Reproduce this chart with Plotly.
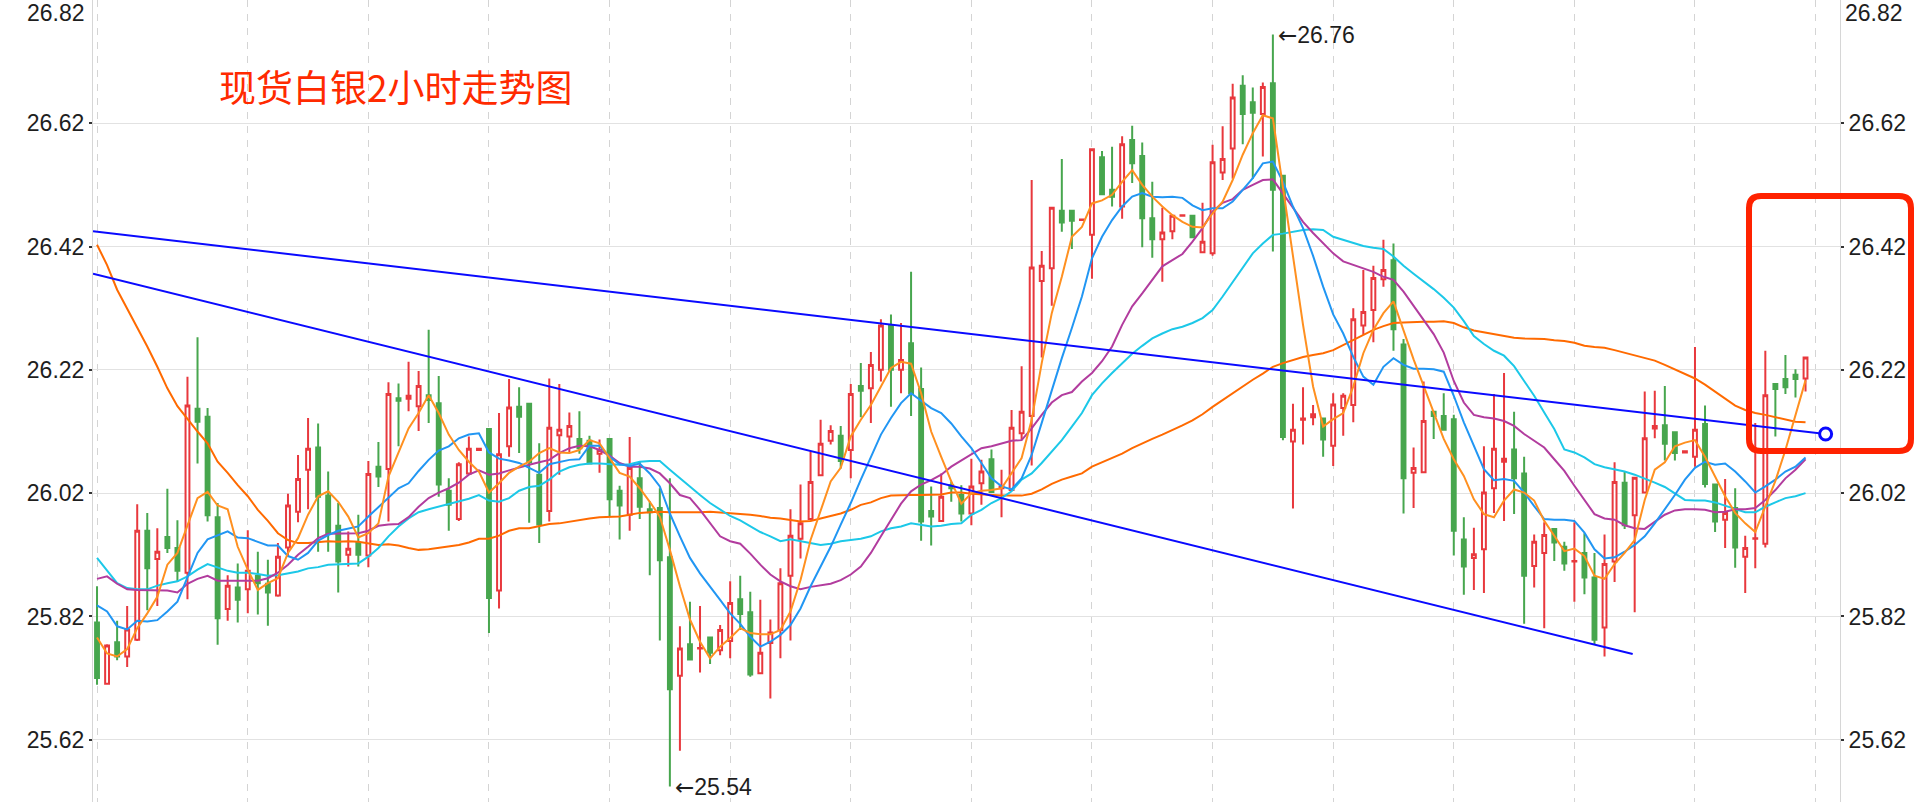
import plotly.graph_objects as go

# ---------------- data ----------------
opens = [25.810,25.711,25.778,25.755,25.782,25.959,25.913,25.949,25.931,25.891,
26.157,26.144,25.981,25.832,25.867,25.864,25.886,25.873,25.854,25.932,
25.990,26.058,26.094,26.016,25.967,25.920,25.939,25.919,26.063,26.059,
26.174,26.173,26.161,26.179,26.166,26.024,25.978,26.052,26.090,26.124,
25.862,26.096,26.160,26.165,26.050,25.991,26.114,26.112,26.108,26.105,
26.084,26.108,26.024,25.985,26.044,25.994,25.996,25.916,25.724,25.775,
25.768,25.786,25.765,25.780,25.848,25.827,25.728,25.777,25.798,25.886,
25.946,25.978,26.049,26.105,26.113,26.090,26.194,26.190,26.220,26.292,
26.220,26.263,26.189,25.991,25.975,26.033,26.017,25.987,26.036,26.075,
26.028,26.025,26.117,26.145,26.364,26.385,26.478,26.478,26.463,26.439,
26.565,26.512,26.485,26.593,26.567,26.466,26.432,26.445,26.470,26.470,
26.411,26.409,26.540,26.579,26.681,26.654,26.635,26.685,26.535,26.104,
26.139,26.143,26.141,26.097,26.158,26.163,26.292,26.317,26.367,26.398,
26.261,26.053,26.054,26.152,26.145,26.140,25.945,25.915,25.929,26.028,
26.071,26.091,26.052,25.902,25.923,25.962,25.933,25.909,25.923,25.883,
25.802,25.909,26.037,25.984,26.021,26.125,26.130,26.119,26.086,26.079,
26.132,26.034,25.977,25.996,25.917,25.946,25.938,26.197,26.205,26.212,
26.206]
highs = [25.869,25.775,25.813,25.837,26.002,25.988,25.963,26.027,25.976,26.209,
26.273,26.158,26.004,25.887,25.906,25.960,25.925,25.912,25.939,26.019,
26.082,26.142,26.133,26.055,26.004,25.958,25.985,26.072,26.103,26.200,
26.198,26.233,26.218,26.285,26.210,26.044,26.070,26.112,26.093,26.124,
26.150,26.205,26.192,26.166,26.101,26.206,26.197,26.151,26.153,26.113,
26.107,26.108,26.032,26.111,26.072,26.007,26.028,26.044,25.804,25.844,
25.837,25.786,25.806,25.877,25.886,25.860,25.847,25.815,25.898,25.994,
26.034,26.088,26.139,26.130,26.129,26.197,26.231,26.249,26.302,26.310,
26.296,26.379,26.224,26.031,26.052,26.039,26.033,26.076,26.074,26.091,
26.058,26.155,26.226,26.528,26.413,26.484,26.562,26.478,26.465,26.579,
26.575,26.582,26.599,26.616,26.589,26.525,26.483,26.471,26.472,26.470,
26.491,26.585,26.615,26.684,26.698,26.678,26.686,26.764,26.535,26.165,
26.192,26.163,26.141,26.182,26.182,26.320,26.382,26.389,26.431,26.425,
26.270,26.094,26.201,26.152,26.182,26.147,25.981,25.964,26.096,26.181,
26.215,26.152,26.079,25.953,25.973,25.962,25.941,25.973,25.955,25.923,
25.953,26.070,26.055,26.045,26.185,26.186,26.194,26.119,26.089,26.257,
26.162,26.034,26.043,26.028,25.951,26.134,26.251,26.197,26.244,26.221,
26.240]
lows = [25.709,25.709,25.749,25.738,25.780,25.830,25.837,25.923,25.876,25.848,
26.068,25.974,25.774,25.813,25.810,25.825,25.823,25.805,25.852,25.917,
25.973,25.994,25.925,25.925,25.859,25.901,25.901,25.900,26.030,25.974,
26.096,26.153,26.121,26.134,26.014,25.959,25.975,26.050,26.089,25.793,
25.833,26.079,26.085,25.972,25.939,25.974,26.050,26.085,26.084,26.068,
26.053,25.983,25.945,25.959,25.978,25.887,25.781,25.544,25.602,25.750,
25.729,25.743,25.757,25.752,25.798,25.722,25.728,25.687,25.752,25.781,
25.914,25.978,26.049,26.099,26.060,26.044,26.143,26.134,26.201,26.160,
26.182,26.145,25.943,25.935,25.975,26.006,25.974,25.968,26.001,26.022,
25.981,26.025,26.106,26.065,26.240,26.324,26.444,26.416,26.462,26.368,
26.505,26.485,26.465,26.523,26.419,26.402,26.363,26.432,26.469,26.435,
26.411,26.405,26.528,26.530,26.586,26.530,26.566,26.412,26.106,25.995,
26.099,26.130,26.079,26.064,26.113,26.135,26.277,26.265,26.355,26.251,
25.987,25.996,26.054,26.108,26.123,25.919,25.855,25.863,25.858,25.988,
25.975,25.986,25.808,25.867,25.801,25.910,25.894,25.844,25.856,25.775,
25.755,25.876,25.962,25.827,26.021,26.109,26.073,26.073,26.085,26.063,
26.029,25.957,25.931,25.899,25.858,25.898,25.932,26.112,26.181,26.175,
26.185]
closes = [25.720,25.773,25.755,25.799,25.959,25.898,25.925,25.931,25.894,26.162,
26.136,25.984,25.817,25.870,25.847,25.894,25.874,25.859,25.917,26.000,
26.043,26.092,26.014,25.955,25.909,25.930,25.920,26.051,26.047,26.181,
26.170,26.178,26.194,26.171,26.034,26.001,26.067,26.092,26.092,25.850,
26.083,26.159,26.144,26.070,25.969,26.126,26.123,26.129,26.093,26.068,
26.090,26.010,26.000,26.061,25.998,25.989,25.911,25.702,25.768,25.750,
25.769,25.761,25.798,25.842,25.824,25.726,25.761,25.794,25.874,25.951,
25.971,26.038,26.100,26.121,26.072,26.181,26.186,26.228,26.292,26.220,
26.236,26.182,25.974,25.982,26.014,26.028,25.987,26.031,26.055,26.022,
26.031,26.126,26.152,26.386,26.389,26.483,26.459,26.462,26.464,26.578,
26.505,26.501,26.586,26.555,26.466,26.432,26.443,26.470,26.471,26.435,
26.428,26.557,26.562,26.662,26.635,26.637,26.679,26.512,26.111,26.123,
26.141,26.148,26.107,26.164,26.178,26.302,26.314,26.369,26.382,26.286,
26.044,26.061,26.137,26.145,26.123,25.959,25.901,25.921,26.021,26.092,
26.076,26.044,25.886,25.941,25.952,25.940,25.906,25.910,25.883,25.782,
25.905,26.038,25.968,26.045,26.109,26.129,26.100,26.085,26.088,26.123,
26.035,25.974,25.988,25.932,25.931,25.947,26.179,26.189,26.192,26.205,
26.240]

ma5 = [25.786,25.760,25.755,25.767,25.801,25.825,25.852,25.904,25.923,25.966,
26.012,26.022,26.000,25.994,25.933,25.896,25.863,25.874,25.882,25.923,
25.947,25.985,26.015,26.023,26.006,25.982,25.948,25.955,25.971,26.047,
26.085,26.125,26.150,26.179,26.150,26.115,26.090,26.071,26.055,26.021,
26.036,26.053,26.063,26.071,26.085,26.093,26.086,26.085,26.090,26.106,
26.101,26.077,26.053,26.047,26.028,26.006,25.982,25.928,25.869,25.815,
25.779,25.752,25.771,25.785,25.801,25.793,25.791,25.791,25.798,25.828,
25.879,25.944,25.993,26.039,26.061,26.112,26.139,26.163,26.193,26.223,
26.233,26.230,26.182,26.120,26.079,26.039,26.003,26.020,26.024,26.025,
26.028,26.052,26.077,26.139,26.231,26.312,26.371,26.436,26.452,26.490,
26.495,26.504,26.525,26.544,26.520,26.501,26.485,26.471,26.460,26.452,
26.451,26.474,26.493,26.528,26.569,26.604,26.633,26.628,26.517,26.404,
26.293,26.193,26.128,26.140,26.150,26.193,26.247,26.285,26.312,26.331,
26.283,26.237,26.194,26.151,26.108,26.075,26.048,26.010,25.986,25.981,
26.008,26.026,26.021,26.008,25.975,25.951,25.926,25.930,25.918,25.886,
25.881,25.905,25.923,25.944,26.009,26.058,26.070,26.096,26.102,26.106,
26.079,26.047,26.015,25.988,25.971,25.957,26.000,26.040,26.090,26.145,
26.203]
ma10 = [25.838,25.828,25.804,25.799,25.813,25.812,25.814,25.828,25.844,25.882,
25.923,25.945,25.951,25.958,25.948,25.947,25.941,25.935,25.935,25.918,
25.912,25.923,25.943,25.952,25.959,25.962,25.966,25.982,25.997,26.013,
26.028,26.036,26.056,26.074,26.089,26.096,26.109,26.115,26.117,26.086,
26.076,26.073,26.069,26.061,26.053,26.067,26.071,26.074,26.075,26.097,
26.097,26.079,26.067,26.064,26.068,26.052,26.031,25.987,25.950,25.915,
25.890,25.869,25.847,25.825,25.808,25.787,25.771,25.779,25.790,25.806,
25.833,25.869,25.901,25.933,25.969,26.004,26.042,26.079,26.115,26.142,
26.166,26.182,26.170,26.158,26.150,26.133,26.112,26.093,26.069,26.044,
26.031,26.026,26.044,26.082,26.134,26.188,26.239,26.288,26.339,26.401,
26.436,26.463,26.485,26.501,26.507,26.501,26.500,26.501,26.499,26.487,
26.479,26.482,26.482,26.493,26.512,26.531,26.555,26.558,26.525,26.485,
26.450,26.405,26.355,26.310,26.279,26.241,26.209,26.196,26.225,26.239,
26.228,26.222,26.222,26.221,26.217,26.178,26.135,26.097,26.059,26.041,
26.043,26.040,26.021,25.999,25.978,25.977,25.977,25.975,25.956,25.929,
25.914,25.916,25.925,25.936,25.950,25.971,25.993,26.017,26.042,26.061,
26.071,26.066,26.068,26.055,26.039,26.021,26.031,26.042,26.055,26.063,
26.078]
ma20 = [25.881,25.885,25.873,25.864,25.863,25.863,25.862,25.862,25.859,25.873,
25.881,25.886,25.878,25.878,25.879,25.878,25.878,25.882,25.891,25.904,
25.920,25.933,25.947,25.954,25.954,25.954,25.955,25.959,25.967,25.969,
25.970,25.981,25.998,26.012,26.021,26.028,26.037,26.050,26.057,26.050,
26.052,26.057,26.062,26.066,26.070,26.074,26.085,26.093,26.097,26.096,
26.090,26.081,26.069,26.063,26.063,26.060,26.052,26.036,26.017,26.012,
25.993,25.971,25.950,25.942,25.938,25.922,25.904,25.888,25.877,25.869,
25.864,25.868,25.871,25.873,25.879,25.888,25.901,25.923,25.950,25.976,
26.003,26.023,26.034,26.041,26.050,26.063,26.073,26.082,26.093,26.096,
26.101,26.105,26.106,26.125,26.147,26.167,26.179,26.184,26.201,26.215,
26.234,26.258,26.293,26.323,26.344,26.366,26.388,26.398,26.408,26.428,
26.450,26.477,26.491,26.497,26.512,26.520,26.528,26.529,26.506,26.482,
26.460,26.442,26.425,26.409,26.396,26.390,26.385,26.379,26.371,26.366,
26.347,26.324,26.302,26.278,26.248,26.202,26.167,26.147,26.143,26.141,
26.137,26.129,26.116,26.105,26.094,26.075,26.056,26.032,26.008,25.986,
25.979,25.977,25.968,25.963,25.962,25.974,25.985,25.992,25.994,25.994,
25.993,25.989,25.990,25.994,25.994,25.996,26.009,26.025,26.044,26.058,
26.075]
ma30 = [25.915,25.895,25.874,25.866,25.864,25.864,25.870,25.874,25.877,25.885,
25.896,25.905,25.900,25.894,25.891,25.891,25.889,25.886,25.887,25.890,
25.893,25.898,25.900,25.904,25.905,25.906,25.906,25.917,25.931,25.950,
25.966,25.979,25.989,25.994,25.998,26.002,26.006,26.011,26.017,26.008,
26.006,26.012,26.024,26.030,26.032,26.042,26.055,26.062,26.066,26.068,
26.068,26.067,26.066,26.067,26.071,26.072,26.072,26.058,26.044,26.031,
26.017,26.004,25.993,25.983,25.976,25.967,25.957,25.950,25.942,25.945,
25.942,25.938,25.936,25.938,25.942,25.944,25.946,25.950,25.958,25.963,
25.966,25.971,25.969,25.966,25.967,25.970,25.971,25.985,25.993,26.004,
26.012,26.023,26.042,26.052,26.069,26.088,26.106,26.128,26.150,26.179,
26.198,26.215,26.231,26.246,26.259,26.271,26.279,26.286,26.290,26.296,
26.304,26.317,26.339,26.363,26.387,26.409,26.425,26.439,26.441,26.444,
26.447,26.448,26.447,26.436,26.431,26.425,26.421,26.418,26.416,26.404,
26.389,26.376,26.364,26.351,26.337,26.321,26.299,26.275,26.262,26.251,
26.243,26.226,26.202,26.178,26.151,26.124,26.091,26.086,26.078,26.067,
26.062,26.059,26.055,26.050,26.044,26.037,26.030,26.020,26.009,26.008,
26.008,26.005,26.000,25.994,25.989,25.989,25.998,26.005,26.012,26.015,
26.020]
ma60 = [26.423,26.390,26.350,26.320,26.290,26.258,26.225,26.190,26.161,26.140,
26.120,26.101,26.071,26.053,26.033,26.015,25.993,25.975,25.955,25.944,
25.939,25.939,25.940,25.942,25.941,25.942,25.941,25.939,25.936,25.937,
25.935,25.931,25.928,25.929,25.931,25.933,25.936,25.940,25.946,25.946,
25.951,25.959,25.963,25.963,25.966,25.970,25.971,25.974,25.977,25.979,
25.981,25.982,25.982,25.985,25.988,25.989,25.990,25.989,25.989,25.988,
25.989,25.990,25.989,25.988,25.987,25.985,25.983,25.980,25.979,25.977,
25.974,25.975,25.979,25.983,25.987,25.993,26.001,26.005,26.012,26.016,
26.017,26.017,26.017,26.017,26.018,26.021,26.021,26.019,26.018,26.016,
26.016,26.016,26.016,26.019,26.026,26.035,26.042,26.047,26.052,26.063,
26.070,26.077,26.084,26.093,26.101,26.108,26.115,26.122,26.130,26.138,
26.148,26.160,26.171,26.183,26.193,26.204,26.214,26.225,26.231,26.236,
26.241,26.244,26.247,26.252,26.260,26.269,26.277,26.285,26.291,26.296,
26.297,26.298,26.298,26.298,26.299,26.296,26.289,26.284,26.281,26.277,
26.275,26.272,26.271,26.271,26.270,26.268,26.267,26.264,26.259,26.257,
26.256,26.252,26.248,26.243,26.239,26.235,26.228,26.221,26.214,26.206,
26.196,26.185,26.174,26.162,26.155,26.150,26.147,26.143,26.139,26.136,
26.135]

# trend lines (bar index, price)
upper_x = [-0.4, 172]
upper_y = [26.445, 26.116]
lower_x = [-0.4, 152.8]
lower_y = [26.376, 25.759]

y_ticks = [25.62, 25.82, 26.02, 26.22, 26.42, 26.62, 26.82]
day_lines = [0, 15, 27, 39, 51, 63, 75, 87, 99, 111, 123, 135, 147, 159, 171]
title_text = "现货白银2小时走势图"

# ---------------- figure ----------------
n = len(closes)
xs = list(range(n))
W, H = 1924, 802
ML, MR = 93, 84
X_RANGE = [-0.4, 173.43]
Y_RANGE = [25.519, 26.82]

RED = "#e8383d"
GREEN = "#47a64e"

fig = go.Figure()
fig.add_trace(go.Candlestick(
    x=xs, open=opens, high=highs, low=lows, close=closes,
    increasing=dict(line=dict(color=RED, width=2), fillcolor="#ffffff"),
    decreasing=dict(line=dict(color=GREEN, width=2), fillcolor=GREEN),
    whiskerwidth=0, hoverinfo="skip", showlegend=False))

ma_styles = [(ma60, "#ff6a00"), (ma30, "#1cc8e8"), (ma20, "#b23c9e"),
             (ma10, "#2196f3"), (ma5, "#ff9020")]
for vals, col in ma_styles:
    fig.add_trace(go.Scatter(x=xs, y=vals, mode="lines",
                             line=dict(color=col, width=2),
                             hoverinfo="skip", showlegend=False))

fig.add_trace(go.Scatter(x=upper_x, y=upper_y, mode="lines",
                         line=dict(color="#0a0aff", width=2), hoverinfo="skip", showlegend=False))
fig.add_trace(go.Scatter(x=lower_x, y=lower_y, mode="lines",
                         line=dict(color="#0a0aff", width=2), hoverinfo="skip", showlegend=False))
fig.add_trace(go.Scatter(x=[upper_x[-1]], y=[upper_y[-1]], mode="markers",
                         marker=dict(size=12, color="white", line=dict(color="#0a0aff", width=3)),
                         hoverinfo="skip", showlegend=False))
# invisible trace for the right-hand axis
fig.add_trace(go.Scatter(x=[xs[0]], y=[closes[0]], yaxis="y2", mode="markers",
                         marker=dict(opacity=0), hoverinfo="skip", showlegend=False))

tick_font = dict(family="Liberation Sans, Arial, sans-serif", size=23, color="#1e1e1e")
shown_ticks = y_ticks[:-1]
axis_common = dict(range=Y_RANGE, tickmode="array", tickvals=shown_ticks,
                   ticktext=[f"{v:.2f}" for v in shown_ticks], tickfont=tick_font,
                   ticks="outside", ticklen=3, tickwidth=1.5, tickcolor="#333333",
                   showline=True, linecolor="#d6d6d6", linewidth=1, zeroline=False,
                   fixedrange=True)

fig.update_layout(
    width=W, height=H,
    margin=dict(l=ML, r=MR, t=0, b=0, pad=0),
    paper_bgcolor="white", plot_bgcolor="white",
    showlegend=False, boxgap=0.45,
    xaxis=dict(range=X_RANGE, showticklabels=False, tickmode="array", tickvals=day_lines,
               showgrid=True, gridcolor="#d4d4d4", gridwidth=1, griddash="7px,7px",
               zeroline=False, showline=False, ticks="", rangeslider=dict(visible=False),
               fixedrange=True),
    yaxis=dict(side="left", showgrid=True, gridcolor="#e2e2e2", gridwidth=1, **axis_common),
    yaxis2=dict(side="right", overlaying="y", showgrid=False, **axis_common),
)

# top tick labels (26.82) sit inside the canvas
top_lbl = f"{y_ticks[-1]:.2f}"
fig.add_annotation(xref="paper", yref="paper", x=0, y=1, xanchor="right", yanchor="middle",
                   xshift=-6, yshift=-13, text=top_lbl, showarrow=False, font=tick_font)
fig.add_annotation(xref="paper", yref="paper", x=1, y=1, xanchor="left", yanchor="middle",
                   xshift=3, yshift=-13, text=top_lbl, showarrow=False, font=tick_font)

# extreme markers
ARROW = '<span style="font-family:DejaVu Sans">←</span>'
i_hi = max(range(n), key=lambda i: highs[i])
i_lo = min(range(n), key=lambda i: lows[i])
fig.add_annotation(x=i_hi, y=highs[i_hi], xanchor="left", yanchor="middle", xshift=3,
                   text=ARROW + f"{highs[i_hi]:.2f}", showarrow=False, font=tick_font)
fig.add_annotation(x=i_lo, y=lows[i_lo], xanchor="left", yanchor="middle", xshift=3,
                   text=ARROW + f"{lows[i_lo]:.2f}", showarrow=False, font=tick_font)

# title
PW = W - ML - MR
def px2paper(px, py):
    return (px - ML) / PW, (H - py) / H

tx, ty = px2paper(217, 86)
fig.add_annotation(xref="paper", yref="paper", x=tx, y=ty, xanchor="left", yanchor="middle",
                   text=title_text, showarrow=False,
                   font=dict(family="Noto Sans CJK SC", size=37, color="#ff2a00"))

# rounded highlight box
def rounded_rect(x0, y0, x1, y1, r):
    def P(px, py):
        a, b = px2paper(px, py)
        return f"{a:.5f},{b:.5f}"
    return (f"M {P(x0 + r, y0)} L {P(x1 - r, y0)} Q {P(x1, y0)} {P(x1, y0 + r)} "
            f"L {P(x1, y1 - r)} Q {P(x1, y1)} {P(x1 - r, y1)} "
            f"L {P(x0 + r, y1)} Q {P(x0, y1)} {P(x0, y1 - r)} "
            f"L {P(x0, y0 + r)} Q {P(x0, y0)} {P(x0 + r, y0)} Z")

fig.add_shape(type="path", xref="paper", yref="paper",
              path=rounded_rect(1749, 196, 1911, 451, 12),
              line=dict(color="#ff2200", width=6), fillcolor="rgba(0,0,0,0)")

fig.write_html("out.html", config={"displayModeBar": False},
               post_script="document.body.style.margin='0px';document.body.style.overflow='hidden';")
